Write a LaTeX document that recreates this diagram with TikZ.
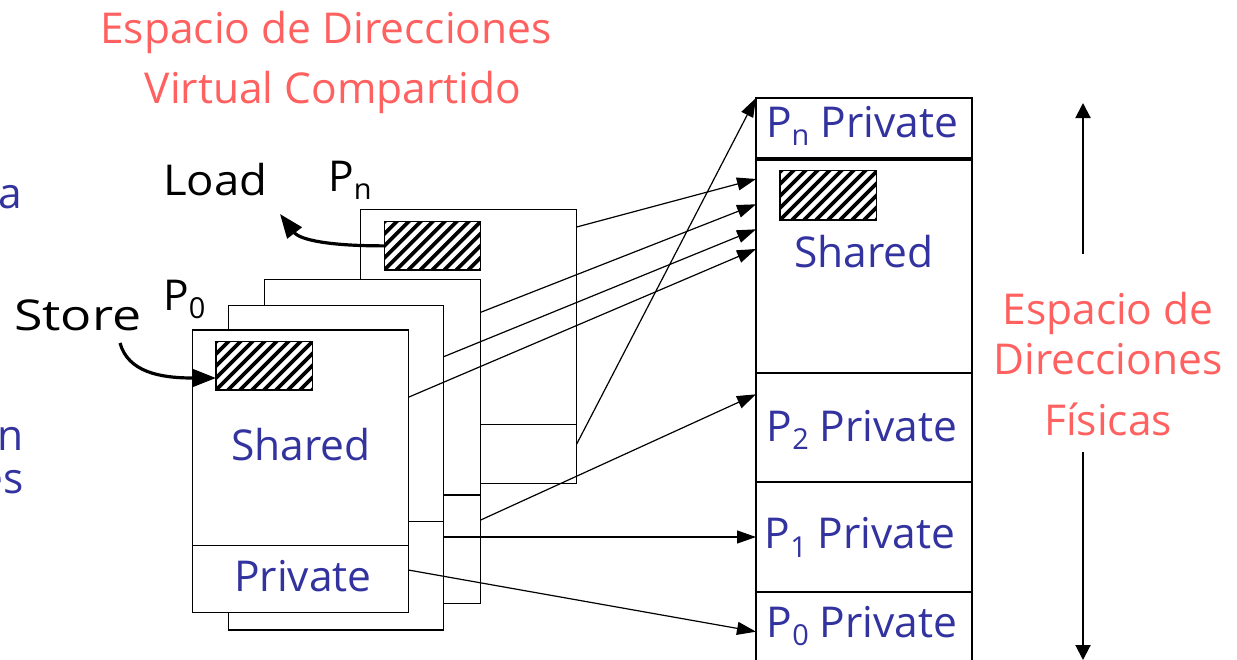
\documentclass[tikz,border=0pt]{standalone}
\usepackage{fontspec}
\setmainfont{Open Sans}
\usetikzlibrary{arrows.meta}
\definecolor{salmon}{RGB}{255,96,96}
\definecolor{ink}{RGB}{51,51,160}
\newcommand{\subs}[1]{\raisebox{-0.2em}{\scalebox{0.68}{#1}}}
\newcommand\rect[6][]{\node[#1, minimum width={(#5-#3)*1pt}, minimum height={(#6-#4)*1pt}] (#2) at (#3,#4) {};}
\newcommand\hatch[5]{%
  \begin{scope}
    \clip (#2,#3) rectangle (#4,#5);
    \foreach \k in {-60,-48,...,120} \draw[line width=3.8pt] ({#2+\k},#5) -- ++(60,-60);
  \end{scope}
  \rect[seg]{#1}{#2}{#3}{#4}{#5}}
\tikzset{
  page/.style={draw, fill=white, line width=1.2pt, anchor=north west, inner sep=0pt, outer sep=0pt},
  seg/.style={draw, line width=1.2pt, anchor=north west, inner sep=0pt, outer sep=0pt},
  divider/.style={line width=1.2pt},
  lbl/.style={font=\fontsize{42.5}{48}\selectfont, text=ink, anchor=base, inner sep=0pt},
  redlbl/.style={font=\fontsize{42.5}{48}\selectfont, text=salmon, anchor=base, inner sep=0pt},
  blk/.style={font=\fontsize{42.5}{48}\selectfont, text=black, anchor=base, inner sep=0pt},
  link/.style={line width=1.2pt, -{Triangle[length=19pt,width=13pt]}},
  bendarrow/.style={line width=3.2pt, -{Triangle[length=24pt,width=18pt]}},
  dimarrow/.style={line width=2pt, -{Triangle[length=15pt,width=15pt]}},
}
\begin{document}
\begin{tikzpicture}[x=1pt,y=-1pt]
\useasboundingbox (0,0) rectangle (1237,659);
\clip (0,0) rectangle (1237,659);

% titles
\node[redlbl] (t1) at (326,43) {Espacio de Direcciones};
\node[redlbl] (t2) at (333,103) {Virtual Compartido};
\node[redlbl] (f1) at (1108,324.4) {Espacio de};
\node[redlbl] (f2) at (1108,374.4) {Direcciones};
\node[redlbl] (f3) at (1108,435.5) {Físicas};

% side text, cut at the left edge as in the reference
\node[lbl, anchor=base east] (s1) at (22,208) {da};
\node[lbl, anchor=base east] (s2) at (24,450) {en};
\node[lbl, anchor=base east] (s3) at (24,493) {es};

% virtual pages (back to front)
\rect[page]{pn}{360.3}{209.3}{576.7}{483.3}
\draw[divider] (pn.west |- 0,424.3) -- (pn.east |- 0,424.3);
\hatch{hn}{384.3}{221.7}{480.7}{270}
\rect[page]{p3}{264.3}{279.3}{480.7}{603.3}
\draw[divider] (p3.west |- 0,495) -- (p3.east |- 0,495);
\rect[page]{p2}{228.3}{305.7}{443.7}{630}
\draw[divider] (p2.west |- 0,521.7) -- (p2.east |- 0,521.7);
\rect[page]{p0}{192.3}{330}{408.3}{612.3}
\draw[divider] (p0.west |- 0,545.7) -- (p0.east |- 0,545.7);
\hatch{h0}{216}{341.7}{312.7}{390}
\node[lbl] (sh0) at (301,460.7) {Shared};
\node[lbl] (pr0) at (303,591.7) {Private};

% physical memory
\rect[page]{phn}{756}{98}{972}{158}
\rect[page]{phs}{756}{160}{972}{373}
\rect[page]{ph2}{756}{373}{972}{482}
\rect[page]{ph1}{756}{482}{972}{592}
\rect[page]{ph0}{756}{592}{972}{662}
\hatch{hs}{780}{170.7}{876.7}{220}
\node[lbl] (lpn) at (862,137.4) {P\subs{n} Private};
\node[lbl] (lsh) at (864,267) {Shared};
\node[lbl] (lp2) at (862,441) {P\subs{2} Private};
\node[lbl] (lp1) at (860,548.5) {P\subs{1} Private};
\node[lbl] (lp0) at (862,637.4) {P\subs{0} Private};

% black labels
\node[blk, anchor=base west] (load) at (163,195) {\scalebox{1.07}[1]{Load}};
\node[blk, anchor=base west] (pnl) at (328,191) {P\subs{n}};
\node[blk, anchor=base west] (store) at (14,330) {\scalebox{1.22}[1]{Store}};
\node[blk, anchor=base west] (p0l) at (163,310) {P\subs{0}};

% thick curved arrows
\coordinate (sa) at (120,343);
\coordinate (la) at (280,214);
\draw[bendarrow] (sa) .. controls (128,372) and (160,378) .. (h0.west |- 0,378);
\draw[bendarrow] (hn.west) .. controls (330,246) and (300,240) .. (la);

% mapping connectors
\draw[link] (pn.east |- 0,227) -- (phs.west |- 0,179);
\draw[link] (p3.east |- 0,312.3) -- (phs.west |- 0,204.3);
\draw[link] (p2.east |- 0,356.7) -- (phs.west |- 0,229.3);
\draw[link] (p0.east |- 0,397.3) -- (phs.west |- 0,249);
\draw[link] (pn.east |- 0,444) -- (phn.north west);
\draw[link] (p3.east |- 0,520) -- (ph2.west |- 0,394.3);
\draw[link] (p2.east |- 0,537) -- (ph1.west |- 0,537);
\draw[link] (p0.east |- 0,570) -- (ph0.west |- 0,631.7);

% size arrow
\coordinate (up0) at (1083,254);
\coordinate (up1) at (1083,103);
\coordinate (dn0) at (1083,452);
\coordinate (dn1) at (1083,660);
\draw[dimarrow] (up0) -- (up1);
\draw[dimarrow] (dn0) -- (dn1);
\end{tikzpicture}
\end{document}
